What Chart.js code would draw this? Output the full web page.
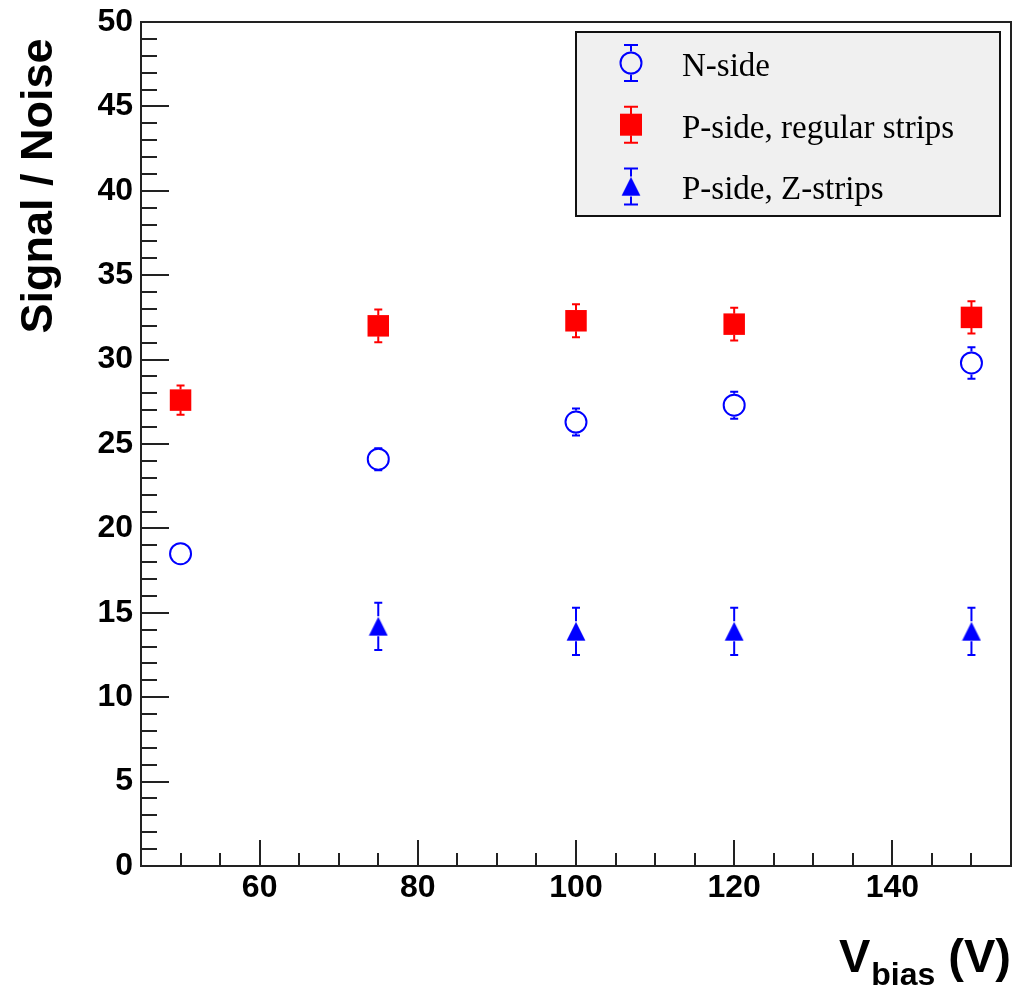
<!DOCTYPE html>
<html>
<head>
<meta charset="utf-8">
<script src="https://cdn.jsdelivr.net/npm/chart.js@4/dist/chart.umd.min.js"></script>
<style>
  html, body { margin: 0; background: #fff; overflow: hidden; }
  #wrap { width: 1014px; height: 992px; position: relative; }
  canvas { display: block; }
</style>
</head>
<body>
<div id="wrap"><canvas id="c"></canvas></div>
<script>
// values
const vbias = [50, 75, 100, 120, 150];
const nSide = [18.5, 24.1, 26.3, 27.3, 29.8];
const nSideErr = [0.4, 0.65, 0.8, 0.8, 0.93];
const pRegular = [27.6, 32.0, 32.3, 32.1, 32.5];
const pRegularErr = [0.87, 0.97, 0.98, 0.97, 0.95];
const zVbias = [75, 100, 120, 150];
const zStrips = [14.2, 13.9, 13.9, 13.9];
const zStripsErr = [1.4, 1.4, 1.4, 1.4];

const seriesNames = ["N-side", "P-side, regular strips", "P-side, Z-strips"];
const xTickValues = [60, 80, 100, 120, 140];
const yTickValues = [0, 5, 10, 15, 20, 25, 30, 35, 40, 45, 50];

const BLUE = "#0000ff";
const RED = "#ff0000";
const AXIS = "#222";

// filled triangle marker (ROOT style, box centred on the point)
const tri = document.createElement("canvas");
tri.width = 20; tri.height = 20;
(function () {
    const t = tri.getContext("2d");
    t.fillStyle = BLUE;
    t.beginPath();
    t.moveTo(10, 0.5);
    t.lineTo(19.5, 19.5);
    t.lineTo(0.5, 19.5);
    t.closePath();
    t.fill();
})();

function pts(xs, ys, es) {
    return xs.map((x, i) => ({ x: x, y: ys[i], err: es[i] }));
}

// gap above/below the point where the error bar is not drawn (marker size)
const barGap = [11.5, 10.5, 10];

function drawMarker(ctx, i, x, y) {
    ctx.save();
    if (i === 0) {
        ctx.strokeStyle = BLUE;
        ctx.lineWidth = 2;
        ctx.beginPath();
        ctx.arc(x, y, 10.5, 0, Math.PI * 2);
        ctx.stroke();
    } else if (i === 1) {
        ctx.fillStyle = RED;
        ctx.fillRect(x - 11, y - 11, 22, 22);
    } else {
        ctx.drawImage(tri, x - 10, y - 10);
    }
    ctx.restore();
}

function drawBar(ctx, x, yTop, yBot, yMid, gap, color, cap) {
    ctx.save();
    ctx.strokeStyle = color;
    ctx.lineWidth = 2;
    ctx.beginPath();
    if (yMid - gap > yTop) {
        ctx.moveTo(x, yTop); ctx.lineTo(x, yMid - gap);
    }
    if (yMid + gap < yBot) {
        ctx.moveTo(x, yMid + gap); ctx.lineTo(x, yBot);
    }
    if (yMid - gap >= yTop - 1) {
        ctx.moveTo(x - cap, yTop); ctx.lineTo(x + cap, yTop);
        ctx.moveTo(x - cap, yBot); ctx.lineTo(x + cap, yBot);
    }
    ctx.stroke();
    ctx.restore();
}

const framePlugin = {
    id: "frame",
    beforeDatasetsDraw(chart) {
        const ctx = chart.ctx;
        const a = chart.chartArea;
        const xs = chart.scales.x, ys = chart.scales.y;
        ctx.save();
        ctx.strokeStyle = AXIS;
        ctx.lineWidth = 2;
        ctx.strokeRect(a.left, a.top, a.right - a.left, a.bottom - a.top);
        ctx.beginPath();
        for (let v = 0; v <= 50; v++) {
            const y = Math.round(ys.getPixelForValue(v));
            const len = v % 5 === 0 ? 28 : 16;
            ctx.moveTo(a.left, y); ctx.lineTo(a.left + len, y);
        }
        for (let v = 45; v <= 155; v += 5) {
            const x = Math.round(xs.getPixelForValue(v));
            const len = v % 20 === 0 ? 26 : 13;
            ctx.moveTo(x, a.bottom); ctx.lineTo(x, a.bottom - len);
        }
        ctx.stroke();
        ctx.restore();
    },
    afterDatasetsDraw(chart) {
        const ctx = chart.ctx;
        const xs = chart.scales.x, ys = chart.scales.y;
        chart.data.datasets.forEach((ds, i) => {
            ds.data.forEach(p => {
                const x = xs.getPixelForValue(p.x);
                drawBar(ctx, x, ys.getPixelForValue(p.y + p.err), ys.getPixelForValue(p.y - p.err),
                    ys.getPixelForValue(p.y), barGap[i], ds.barColor, 4);
            });
        });
    },
    afterDraw(chart) {
        const ctx = chart.ctx;
        ctx.save();
        // legend box
        ctx.fillStyle = "#f0f0f0";
        ctx.fillRect(576, 32, 424, 184);
        ctx.strokeStyle = "#111";
        ctx.lineWidth = 2;
        ctx.strokeRect(576, 32, 424, 184);
        ctx.font = "33px 'Liberation Serif'";
        ctx.textBaseline = "alphabetic";
        chart.data.datasets.forEach((ds, i) => {
            const cy = 63 + i * 61.7;
            drawBar(ctx, 631, cy - 18, cy + 18, cy, barGap[i], ds.barColor, 7);
            drawMarker(ctx, i, 631, cy);
            ctx.fillStyle = "#000";
            ctx.fillText(ds.label, 682, cy + 13);
        });

        // y title
        ctx.save();
        ctx.translate(52, 186);
        ctx.rotate(-Math.PI / 2);
        ctx.font = "bold 45px 'Liberation Sans'";
        ctx.textAlign = "center";
        ctx.fillText("Signal / Noise", 0, 0);
        ctx.restore();

        // x title  V_bias (V)
        const big = "bold 47px 'Liberation Sans'";
        const small = "bold 32px 'Liberation Sans'";
        ctx.font = big;
        const wV = ctx.measureText("V").width;
        const wR = ctx.measureText(" (V)").width;
        ctx.font = small;
        const wS = ctx.measureText("bias").width;
        const x0 = 1010 - (wV + wS + wR);
        ctx.textAlign = "left";
        ctx.font = big;
        ctx.fillText("V", x0, 972);
        ctx.font = small;
        ctx.fillText("bias", x0 + wV + 1, 985);
        ctx.font = big;
        ctx.fillText(" (V)", x0 + wV + wS + 1, 972);
        ctx.restore();
    }
};

const ctx = document.getElementById("c").getContext("2d");

new Chart(ctx, {
    type: "scatter",
    data: {
        datasets: [
            {
                label: seriesNames[0],
                data: pts(vbias, nSide, nSideErr),
                pointStyle: "circle",
                pointRadius: 10.5,
                borderWidth: 2,
                borderColor: BLUE,
                backgroundColor: "rgba(0,0,0,0)",
                barColor: BLUE
            },
            {
                label: seriesNames[1],
                data: pts(vbias, pRegular, pRegularErr),
                pointStyle: "rect",
                pointRadius: 15.2,
                borderWidth: 0,
                backgroundColor: RED,
                borderColor: RED,
                barColor: RED
            },
            {
                label: seriesNames[2],
                data: pts(zVbias, zStrips, zStripsErr),
                pointStyle: tri,
                pointRadius: 10,
                borderWidth: 0,
                backgroundColor: BLUE,
                barColor: BLUE
            }
        ]
    },
    options: {
        responsive: true,
        maintainAspectRatio: false,
        animation: false,
        layout: { autoPadding: false, padding: { top: 22, right: 3, left: 0, bottom: 0 } },
        scales: {
            x: {
                type: "linear",
                min: 45,
                max: 155,
                afterFit: s => { s.height = 126; s.paddingLeft = 0; s.paddingRight = 0; },
                afterBuildTicks: s => { s.ticks = xTickValues.map(v => ({ value: v })); },
                grid: { display: false, drawTicks: false },
                border: { display: false },
                ticks: {
                    padding: 3,
                    color: "#000",
                    font: { family: "'Liberation Sans'", size: 32, weight: "bold" }
                }
            },
            y: {
                type: "linear",
                min: 0,
                max: 50,
                afterFit: s => { s.width = 141; s.paddingTop = 0; s.paddingBottom = 0; },
                afterBuildTicks: s => { s.ticks = yTickValues.map(v => ({ value: v })); },
                grid: { display: false, drawTicks: false },
                border: { display: false },
                ticks: {
                    padding: 8,
                    color: "#000",
                    font: { family: "'Liberation Sans'", size: 32, weight: "bold" }
                }
            }
        },
        plugins: {
            legend: { display: false },
            tooltip: { enabled: false }
        }
    },
    plugins: [framePlugin]
});
</script>
</body>
</html>
